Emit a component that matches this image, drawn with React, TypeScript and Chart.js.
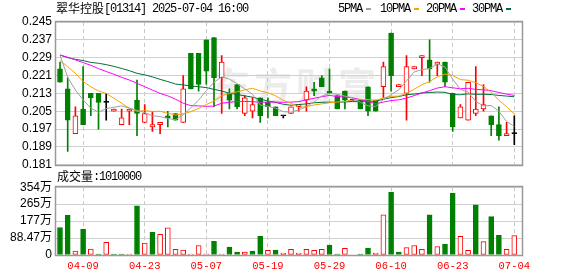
import React, { useEffect, useRef } from 'react';
import { Chart, registerables } from 'chart.js';

Chart.register(...registerables);

const stockName = '翠华控股';
const stockCode = '[01314] 2025-07-04 16:00';

const dates = [
  '04-03', '04-07', '04-08', '04-09', '04-10', '04-11', '04-14', '04-15', '04-16', '04-17',
  '04-22', '04-23', '04-24', '04-25', '04-28', '04-29', '04-30', '05-02', '05-06', '05-07',
  '05-08', '05-09', '05-12', '05-13', '05-14', '05-15', '05-16', '05-19', '05-20', '05-21',
  '05-22', '05-23', '05-26', '05-27', '05-28', '05-29', '05-30', '06-02', '06-03', '06-04',
  '06-05', '06-06', '06-09', '06-10', '06-11', '06-12', '06-13', '06-16', '06-17', '06-18',
  '06-19', '06-23', '06-24', '06-25', '06-26', '06-27', '06-30', '07-02', '07-03', '07-04',
];

const opens = [
  0.224, 0.215, 0.195, 0.206, 0.213, 0.213, 0.209, 0.205, 0.199, 0.205,
  0.210, 0.200, 0.198, 0.199, 0.203, 0.204, 0.200, 0.231, 0.231, 0.237,
  0.238, 0.220, 0.213, 0.217, 0.204, 0.205, 0.211, 0.209, 0.207, 0.203,
  0.204, 0.207, 0.210, 0.215, 0.220, 0.214, 0.212, 0.214, 0.210, 0.210,
  0.216, 0.210, 0.216, 0.240, 0.216, 0.213, 0.224, 0.229, 0.228, 0.226,
  0.227, 0.213, 0.202, 0.201, 0.204, 0.206, 0.203, 0.199, 0.194, 0.195,
];
const highs = [
  0.227, 0.220, 0.207, 0.225, 0.213, 0.213, 0.213, 0.206, 0.206, 0.206,
  0.219, 0.208, 0.205, 0.200, 0.205, 0.204, 0.221, 0.231, 0.231, 0.237,
  0.238, 0.230, 0.215, 0.217, 0.212, 0.211, 0.211, 0.211, 0.207, 0.203,
  0.207, 0.208, 0.216, 0.218, 0.221, 0.224, 0.212, 0.214, 0.210, 0.210,
  0.216, 0.210, 0.227, 0.240, 0.217, 0.230, 0.225, 0.230, 0.237, 0.227,
  0.227, 0.213, 0.208, 0.218, 0.225, 0.217, 0.203, 0.207, 0.200, 0.203,
];
const lows = [
  0.218, 0.187, 0.195, 0.199, 0.203, 0.197, 0.201, 0.205, 0.199, 0.199,
  0.194, 0.200, 0.196, 0.195, 0.198, 0.201, 0.200, 0.215, 0.214, 0.217,
  0.207, 0.204, 0.206, 0.206, 0.203, 0.202, 0.200, 0.202, 0.203, 0.202,
  0.204, 0.205, 0.205, 0.212, 0.216, 0.213, 0.206, 0.206, 0.210, 0.206,
  0.203, 0.205, 0.211, 0.214, 0.216, 0.201, 0.224, 0.221, 0.218, 0.221,
  0.216, 0.196, 0.202, 0.201, 0.203, 0.205, 0.194, 0.192, 0.194, 0.190,
];
const closes = [
  0.218, 0.201, 0.203, 0.199, 0.211, 0.209, 0.209, 0.206, 0.202, 0.206,
  0.204, 0.204, 0.199, 0.200, 0.202, 0.201, 0.215, 0.215, 0.217, 0.223,
  0.220, 0.227, 0.210, 0.207, 0.211, 0.208, 0.203, 0.207, 0.203, 0.203,
  0.207, 0.208, 0.214, 0.214, 0.216, 0.213, 0.206, 0.210, 0.210, 0.206,
  0.205, 0.205, 0.225, 0.221, 0.217, 0.225, 0.225, 0.230, 0.224, 0.227,
  0.218, 0.198, 0.207, 0.218, 0.206, 0.208, 0.199, 0.194, 0.195, 0.195,
];

const ma5 = [
  0.2302, 0.2202, 0.2145, 0.2101, 0.2064, 0.2046, 0.2062, 0.2068, 0.2074, 0.2064,
  0.2054, 0.2044, 0.2030, 0.2026, 0.2018, 0.2012, 0.2034, 0.2066, 0.2100, 0.2142,
  0.2180, 0.2204, 0.2194, 0.2174, 0.2150, 0.2126, 0.2078, 0.2072, 0.2064, 0.2048,
  0.2046, 0.2056, 0.2070, 0.2092, 0.2118, 0.2130, 0.2126, 0.2118, 0.2110, 0.2090,
  0.2074, 0.2072, 0.2102, 0.2124, 0.2146, 0.2186, 0.2226, 0.2236, 0.2242, 0.2262,
  0.2248, 0.2194, 0.2148, 0.2136, 0.2094, 0.2074, 0.2076, 0.2050, 0.2004, 0.1982,
];
const ma10 = [
  0.2277, 0.2250, 0.2220, 0.2183, 0.2160, 0.2141, 0.2130, 0.2108, 0.2086, 0.2064,
  0.2050, 0.2053, 0.2049, 0.2050, 0.2041, 0.2033, 0.2039, 0.2048, 0.2063, 0.2080,
  0.2096, 0.2119, 0.2130, 0.2137, 0.2146, 0.2153, 0.2141, 0.2133, 0.2119, 0.2099,
  0.2086, 0.2067, 0.2071, 0.2078, 0.2083, 0.2088, 0.2091, 0.2094, 0.2101, 0.2104,
  0.2102, 0.2099, 0.2110, 0.2117, 0.2118, 0.2130, 0.2149, 0.2169, 0.2183, 0.2204,
  0.2217, 0.2210, 0.2192, 0.2189, 0.2178, 0.2161, 0.2135, 0.2099, 0.2070, 0.2038,
];
const ma20 = [
  0.2302, 0.2292, 0.2280, 0.2268, 0.2256, 0.2241, 0.2228, 0.2216, 0.2202, 0.2190,
  0.2175, 0.2160, 0.2145, 0.2130, 0.2119, 0.2104, 0.2086, 0.2075, 0.2074, 0.2072,
  0.2073, 0.2086, 0.2090, 0.2094, 0.2094, 0.2093, 0.2090, 0.2091, 0.2091, 0.2090,
  0.2091, 0.2093, 0.2101, 0.2108, 0.2115, 0.2121, 0.2116, 0.2114, 0.2110, 0.2102,
  0.2094, 0.2083, 0.2091, 0.2098, 0.2101, 0.2109, 0.2120, 0.2132, 0.2142, 0.2154,
  0.2160, 0.2155, 0.2151, 0.2153, 0.2148, 0.2146, 0.2142, 0.2134, 0.2127, 0.2121,
];
const ma30 = [
  0.2302, 0.2290, 0.2283, 0.2277, 0.2269, 0.2265, 0.2259, 0.2251, 0.2242, 0.2232,
  0.2220, 0.2213, 0.2204, 0.2193, 0.2183, 0.2172, 0.2168, 0.2163, 0.2160, 0.2156,
  0.2148, 0.2141, 0.2131, 0.2125, 0.2119, 0.2113, 0.2104, 0.2096, 0.2090, 0.2081,
  0.2077, 0.2080, 0.2083, 0.2088, 0.2090, 0.2091, 0.2090, 0.2092, 0.2094, 0.2094,
  0.2095, 0.2095, 0.2104, 0.2111, 0.2116, 0.2124, 0.2127, 0.2132, 0.2134, 0.2136,
  0.2135, 0.2125, 0.2124, 0.2128, 0.2126, 0.2126, 0.2125, 0.2121, 0.2118, 0.2115,
];

// volume in 万 (10,000 shares)
const volumes = [
  143.6, 206.9, 20.5, 133.4, 30.8, 5.1, 66.7, 5.1, 5.1, 5.1,
  256.5, 61.6, 118.0, 107.7, 141.9, 29.0, 25.6, 5.1, 49.6, 5.1,
  71.8, 5.1, 41.0, 15.4, 15.4, 20.5, 97.5, 23.9, 25.6, 10.3,
  29.0, 10.3, 29.0, 24.0, 29.0, 51.3, 5.1, 34.2, 0, 5.1,
  35.9, 10.3, 210.3, 328.3, 15.4, 39.3, 49.6, 29.0, 210.3, 44.5,
  56.4, 323.1, 97.5, 24.0, 261.6, 70.1, 200.0, 102.6, 29.0, 101.0,
];
// true = close not lower than previous close (red hollow volume bar)
const volumeUp = [
  false, false, true, false, true, false, true, false, false, true,
  false, true, false, true, true, true, true, true, true, true,
  false, true, false, false, true, false, false, true, false, true,
  true, true, true, true, true, false, false, true, true, false,
  false, true, true, false, false, true, true, true, false, true,
  false, false, true, true, false, true, false, false, true, true,
];

const priceTicks = [0.181, 0.189, 0.197, 0.205, 0.213, 0.221, 0.229, 0.237, 0.245];
const volumeTicks = [0, 88.47, 176.94, 265.41, 353.88];
const volumeTickLabels = ['0', '88.47万', '177万', '265万', '354万'];
const dateTickIndex = [3, 11, 19, 27, 35, 43, 51, 59];
const legendNames = ['5PMA', '10PMA', '20PMA', '30PMA'];

const RED = '#ff0000';
const GREEN = '#008000';
const BLACK = '#000000';
const MA_COLORS = ['#a0a0a0', '#f5a300', '#ff00ff', '#00703a'];

const X_MIN = -0.52;
const X_MAX = 60;

const monoText: React.CSSProperties = {
  position: 'absolute',
  fontFamily: '"Liberation Mono", monospace',
  fontSize: 12,
  letterSpacing: '-1.2px',
  lineHeight: '12px',
  whiteSpace: 'pre',
  color: '#000',
};
const cjkText: React.CSSProperties = {
  position: 'absolute',
  fontFamily: '"Noto Sans CJK SC", sans-serif',
  fontSize: 12,
  lineHeight: '12px',
  whiteSpace: 'pre',
  color: '#000',
};

export default function App() {
  const priceRef = useRef<HTMLCanvasElement | null>(null);
  const volRef = useRef<HTMLCanvasElement | null>(null);

  useEffect(() => {
    const n = dates.length;
    const idx = Array.from({ length: n }, (_, i) => i);
    const candleColor = idx.map((i) =>
      closes[i] > opens[i] ? RED : closes[i] < opens[i] ? GREEN : BLACK,
    );
    const bodyFill = idx.map((i) => (closes[i] > opens[i] ? '#ffffff' : candleColor[i]));

    const framePlugin = {
      id: 'frame',
      afterDraw(chart: any) {
        const { ctx, chartArea: a } = chart;
        ctx.save();
        ctx.strokeStyle = '#9a9a9a';
        ctx.lineWidth = 1.5;
        ctx.strokeRect(
          Math.round(a.left) - 0.5,
          Math.round(a.top) - 0.5,
          Math.round(a.right - a.left) + 1,
          Math.round(a.bottom - a.top) + 1,
        );
        ctx.restore();
      },
    };

    const maSets = [ma5, ma10, ma20, ma30].map((arr, k) => ({
      type: 'line' as const,
      label: legendNames[k],
      data: idx.map((i) => ({ x: i, y: arr[i] })),
      borderColor: MA_COLORS[k],
      borderWidth: 1,
      pointRadius: 0,
      tension: 0,
      order: 0,
    }));

    const priceChart = new Chart(priceRef.current!, {
      type: 'bar',
      data: {
        datasets: [
          ...maSets,
          {
            type: 'bar',
            label: 'body',
            data: idx.map((i) => ({ x: i, y: [opens[i], closes[i]] })),
            backgroundColor: bodyFill,
            borderColor: candleColor,
            borderWidth: 1,
            borderSkipped: false,
            barThickness: 5,
            minBarLength: 1,
            grouped: false,
            order: 1,
          },
          {
            type: 'bar',
            label: 'wick',
            data: idx.map((i) => ({ x: i, y: [lows[i], highs[i]] })),
            backgroundColor: candleColor,
            borderWidth: 0,
            barThickness: 1,
            minBarLength: 1,
            grouped: false,
            order: 2,
          },
        ] as any,
      },
      options: {
        responsive: false,
        animation: false,
        events: [],
        layout: { padding: { top: 22, right: 56, bottom: 11, left: 0 } },
        plugins: { legend: { display: false }, tooltip: { enabled: false } },
        scales: {
          x: {
            type: 'linear',
            offset: false,
            min: X_MIN,
            max: X_MAX,
            afterBuildTicks: (s: any) => {
              s.ticks = dateTickIndex.map((v) => ({ value: v }));
            },
            ticks: { display: false },
            grid: { color: '#c8c8c8', drawTicks: false, offset: false },
            border: { display: false, dash: [4, 3] },
            afterFit: (s: any) => {
              s.height = 0;
            },
          },
          y: {
            type: 'linear',
            min: priceTicks[0],
            max: priceTicks[priceTicks.length - 1],
            afterBuildTicks: (s: any) => {
              s.ticks = priceTicks.map((v) => ({ value: v }));
            },
            ticks: {
              autoSkip: false,
              callback: (v: any) => Number(v).toFixed(3),
              font: { family: '"Liberation Sans", Arial, sans-serif', size: 12 },
              color: '#000',
              padding: 4,
            },
            grid: { color: '#d0d0d0', drawTicks: false },
            border: { display: false },
            afterFit: (s: any) => {
              s.width = 56;
            },
          },
        },
      } as any,
      plugins: [framePlugin],
    });

    const volChart = new Chart(volRef.current!, {
      type: 'bar',
      data: {
        datasets: [
          {
            label: 'volume',
            data: idx.map((i) => ({ x: i, y: volumes[i] })),
            backgroundColor: idx.map((i) => (volumeUp[i] ? '#ffffff' : GREEN)),
            borderColor: idx.map((i) => (volumeUp[i] ? RED : GREEN)),
            borderWidth: 1,
            borderSkipped: false,
            barThickness: 5,
            grouped: false,
          },
        ] as any,
      },
      options: {
        responsive: false,
        animation: false,
        events: [],
        layout: { padding: { top: 10, right: 56, bottom: 0, left: 0 } },
        plugins: { legend: { display: false }, tooltip: { enabled: false } },
        scales: {
          x: {
            type: 'linear',
            offset: false,
            min: X_MIN,
            max: X_MAX,
            afterBuildTicks: (s: any) => {
              s.ticks = dateTickIndex.map((v) => ({ value: v }));
            },
            ticks: {
              autoSkip: false,
              maxRotation: 0,
              color: RED,
              font: { family: '"Liberation Mono", monospace', size: 10.5 },
              padding: 5,
              callback: (v: any) => dates[Math.round(Number(v))],
            },
            grid: { color: '#c8c8c8', drawTicks: false, offset: false },
            border: { display: false, dash: [4, 3] },
            afterFit: (s: any) => {
              s.height = 21;
            },
          },
          y: {
            type: 'linear',
            min: volumeTicks[0],
            max: volumeTicks[volumeTicks.length - 1],
            afterBuildTicks: (s: any) => {
              s.ticks = volumeTicks.map((v) => ({ value: v }));
            },
            ticks: {
              autoSkip: false,
              callback: (_v: any, i: number) => volumeTickLabels[i],
              font: { family: '"Liberation Sans", "Noto Sans CJK SC", sans-serif', size: 12 },
              color: '#000',
              padding: 4,
            },
            grid: { color: '#d0d0d0', drawTicks: false },
            border: { display: false },
            afterFit: (s: any) => {
              s.width = 56;
            },
          },
        },
      } as any,
      plugins: [framePlugin],
    });

    return () => {
      priceChart.destroy();
      volChart.destroy();
    };
  }, []);

  const legendX = [338, 380, 426, 472];
  const lastVolume = String(Math.round(volumes[volumes.length - 1] * 10000));

  return (
    <div
      style={{
        position: 'absolute',
        left: 0,
        top: 0,
        width: 578,
        height: 276,
        background: '#ffffff',
        overflow: 'hidden',
      }}
    >
      <div
        style={{
          position: 'absolute',
          left: 212,
          top: 62,
          fontFamily: '"Noto Sans CJK SC", sans-serif',
          fontSize: 38,
          fontWeight: 700,
          letterSpacing: '4px',
          lineHeight: '44px',
          color: '#ececec',
          whiteSpace: 'pre',
        }}
      >
        东方财富
      </div>
      <canvas
        ref={priceRef}
        width={578}
        height={176}
        style={{ position: 'absolute', left: 0, top: 0, width: 578, height: 176 }}
      />
      <canvas
        ref={volRef}
        width={578}
        height={100}
        style={{ position: 'absolute', left: 0, top: 176, width: 578, height: 100 }}
      />
      <span style={{ ...cjkText, left: 56, top: 2 }}>{stockName}</span>
      <span style={{ ...monoText, left: 104, top: 3 }}>{stockCode}</span>
      {legendNames.map((name, k) => (
        <React.Fragment key={name}>
          <span style={{ ...monoText, left: legendX[k], top: 3 }}>{name}</span>
          <span
            style={{
              position: 'absolute',
              left: legendX[k] + name.length * 6 + 4,
              top: 8,
              width: 5,
              height: 2,
              background: MA_COLORS[k],
            }}
          />
        </React.Fragment>
      ))}
      <span style={{ ...cjkText, left: 57, top: 170 }}>成交量</span>
      <span style={{ ...monoText, left: 93, top: 171 }}>{':' + lastVolume}</span>
    </div>
  );
}
